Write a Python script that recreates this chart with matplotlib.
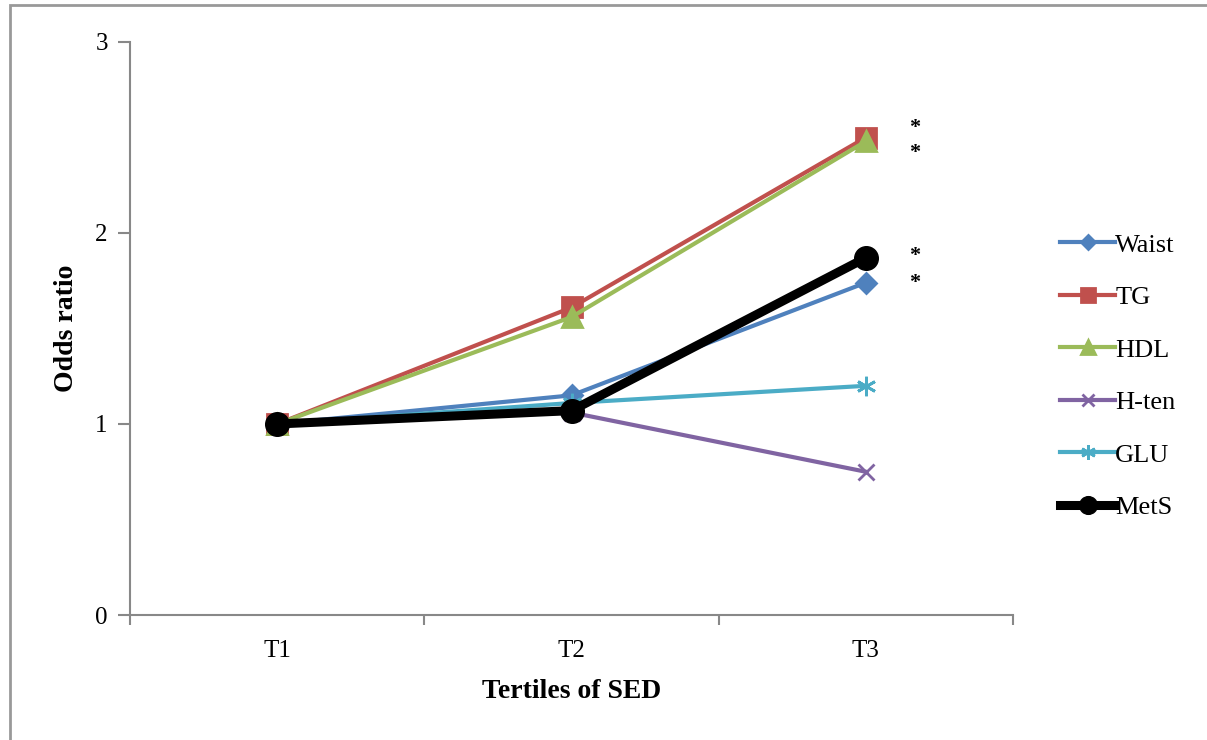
import numpy as np
import matplotlib.pyplot as plt
from matplotlib.patches import Rectangle

# Dữ liệu
tertiles = ['T1', 'T2', 'T3']
waist = [1.00, 1.15, 1.74]
tg = [1.00, 1.61, 2.50]
hdl = [1.00, 1.56, 2.48]
h_ten = [1.00, 1.06, 0.75]
glu = [1.00, 1.11, 1.20]
mets = [1.00, 1.07, 1.87]
star_y = [2.55, 2.42, 1.88, 1.74]

plt.rcParams['font.family'] = ['Liberation Serif', 'DejaVu Serif']

fig = plt.figure(figsize=(12.07, 7.40), dpi=100)
ax = fig.add_axes([130 / 1207, 1 - 615 / 740, (1013 - 130) / 1207, (615 - 42) / 740])

# Khung ngoài màu xám
fig.patches.append(Rectangle((10 / 1207, -0.05), 1.1, 0.05 + 1 - 5 / 740,
                             transform=fig.transFigure, fill=False,
                             edgecolor='#999999', linewidth=2))

x = np.arange(len(tertiles))
series = [
    ('Waist', waist, '#4F81BD', 'D', 10),
    ('TG', tg, '#C0504D', 's', 14),
    ('HDL', hdl, '#9BBB59', '^', 14),
    ('H-ten', h_ten, '#8064A2', 'x', 12),
    ('GLU', glu, '#4BACC6', (6, 2, 0), 14),
]
for name, vals, col, mk, ms in series:
    ax.plot(x, vals, color=col, linewidth=3, marker=mk, markersize=ms,
            markerfacecolor=col, markeredgecolor=col, markeredgewidth=2, label=name)
ax.plot(x, mets, color='black', linewidth=6.5, marker='o', markersize=17, label='MetS')

# Dấu sao
for yv in star_y:
    ax.text(2.165, yv, '*', ha='center', va='center', fontsize=16,
            fontweight='bold', color='black')

ax.set_xlim(-0.5, 2.5)
ax.set_ylim(0, 3)
ax.set_xticks(x)
ax.set_xticklabels(tertiles, fontsize=18)
ax.set_xticks([-0.5, 0.5, 1.5, 2.5], minor=True)
ax.tick_params(axis='x', which='major', length=0, pad=18)
ax.tick_params(axis='x', which='minor', length=7, color='#888888', width=1.5)
ax.set_yticks([0, 1, 2, 3])
ax.tick_params(axis='y', labelsize=18, length=9, color='#888888', width=1.5, pad=7)

for s in ['top', 'right']:
    ax.spines[s].set_visible(False)
for s in ['left', 'bottom']:
    ax.spines[s].set_color('#888888')
    ax.spines[s].set_linewidth(1.5)

ax.set_xlabel('Tertiles of SED', fontsize=20, fontweight='bold', labelpad=12)
ax.set_ylabel('Odds ratio', fontsize=20, fontweight='bold', labelpad=12)

ax.legend(loc='center left', bbox_to_anchor=(1.053, 0.417), frameon=False, fontsize=19,
          handlelength=2.1, handletextpad=0.0, labelspacing=1.1, borderaxespad=0,
          borderpad=0, markerscale=0.75)

fig.savefig('out.png', dpi=100)
